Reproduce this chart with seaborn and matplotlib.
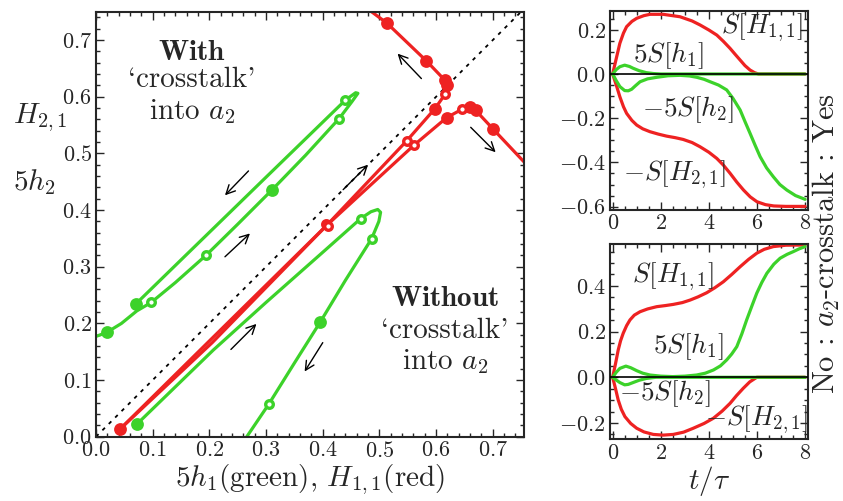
import numpy as np
import matplotlib
matplotlib.use("Agg")
import matplotlib.pyplot as plt
from matplotlib.ticker import MultipleLocator
import seaborn as sns

RED = "#EE2222"
GREEN = "#3CD22A"

# ---- main panel: trajectories (5h1, 5h2) green and (H11, H21) red ----
g_with_x = [-0.02, 0.0, 0.019, 0.045, 0.072, 0.0975, 0.14, 0.194, 0.25, 0.31, 0.37, 0.429, 0.452, 0.462, 0.458, 0.44, 0.30, 0.15, 0.071]
g_with_y = [0.168, 0.177, 0.184, 0.200, 0.222, 0.237, 0.272, 0.320, 0.375, 0.435, 0.497, 0.5615, 0.592, 0.606, 0.607, 0.594, 0.458, 0.312, 0.235]

g_wo_x = [0.072, 0.14, 0.207, 0.30, 0.404, 0.467, 0.485, 0.497, 0.502, 0.499, 0.486, 0.44, 0.396, 0.35, 0.3045, 0.266, 0.255]
g_wo_y = [0.022, 0.088, 0.153, 0.237, 0.329, 0.385, 0.397, 0.401, 0.396, 0.38, 0.349, 0.276, 0.203, 0.13, 0.057, 0.0, -0.02]

r_a_x = [0.043, 0.20, 0.407, 0.548, 0.598, 0.6155, 0.6185, 0.6155, 0.583, 0.513, 0.486, 0.47]
r_a_y = [0.014, 0.169, 0.373, 0.522, 0.579, 0.604, 0.620, 0.629, 0.663, 0.730, 0.75, 0.765]

r_b_x = [0.043, 0.205, 0.407, 0.561, 0.6185, 0.645, 0.6596, 0.6696, 0.7007, 0.755, 0.77]
r_b_y = [0.014, 0.166, 0.373, 0.5145, 0.563, 0.5775, 0.581, 0.576, 0.5427, 0.485, 0.47]

red_full_x = [0.043, 0.598, 0.6185, 0.6155, 0.583, 0.513, 0.6185, 0.6596, 0.6696, 0.7007]
red_full_y = [0.014, 0.579, 0.620, 0.629, 0.663, 0.730, 0.563, 0.581, 0.576, 0.5427]
red_open_x = [0.405, 0.409, 0.548, 0.561, 0.6155, 0.645]
red_open_y = [0.375, 0.372, 0.522, 0.5145, 0.604, 0.5775]
green_full_x = [0.019, 0.071, 0.310, 0.072, 0.396]
green_full_y = [0.184, 0.235, 0.435, 0.022, 0.203]
green_open_x = [0.0975, 0.194, 0.429, 0.44, 0.467, 0.486, 0.3045]
green_open_y = [0.237, 0.320, 0.5615, 0.594, 0.385, 0.349, 0.057]

# ---- right panels: shifts vs t/tau (top: with crosstalk, bottom: without) ----
t_top_H11 = [0, 0.15, 0.3, 0.45, 0.58, 0.8, 1.0, 1.3, 1.55, 2.1, 2.8, 3.3, 3.63, 4.0, 4.33, 4.6, 4.88, 5.1, 5.3, 5.5, 5.71, 5.9, 6.06, 8.0]
top_S_H11 = [0, 0.07, 0.139, 0.185, 0.214, 0.238, 0.252, 0.264, 0.270, 0.270, 0.259, 0.240, 0.222, 0.199, 0.176, 0.148, 0.116, 0.088, 0.063, 0.038, 0.018, 0.006, 0.0, 0.0]
t_top_H21 = [0, 0.15, 0.3, 0.45, 0.58, 0.8, 1.0, 1.25, 1.55, 1.9, 2.24, 2.6, 2.93, 3.3, 3.63, 4.0, 4.33, 4.6, 4.88, 5.16, 5.44, 5.72, 6.0, 6.35, 6.7, 7.2, 8.0]
top_mS_H21 = [0, -0.05, -0.103, -0.148, -0.178, -0.210, -0.231, -0.248, -0.261, -0.272, -0.281, -0.288, -0.296, -0.310, -0.329, -0.354, -0.382, -0.412, -0.449, -0.489, -0.525, -0.556, -0.578, -0.591, -0.597, -0.599, -0.599]
t_top_h1 = [0, 0.15, 0.3, 0.5, 0.7, 0.85, 1.1, 1.4, 1.7, 2.0, 8.0]
top_5S_h1 = [0, 0.02, 0.033, 0.040, 0.034, 0.026, 0.015, 0.006, 0.002, 0.0, 0.0]
t_top_h2 = [0, 0.15, 0.3, 0.5, 0.65, 0.79, 0.95, 1.14, 1.45, 1.83, 2.3, 2.8, 3.2, 3.5, 3.8, 4.05, 4.4, 4.74, 5.0, 5.3, 5.5, 5.71, 5.92, 6.13, 6.4, 6.68, 6.95, 7.24, 7.6, 8.0]
top_m5S_h2 = [0, -0.03, -0.057, -0.075, -0.076, -0.069, -0.053, -0.035, -0.022, -0.015, -0.008, -0.006, -0.009, -0.015, -0.024, -0.035, -0.05, -0.072, -0.11, -0.163, -0.215, -0.268, -0.322, -0.374, -0.425, -0.465, -0.500, -0.525, -0.550, -0.567]

t_bot_H11 = [0, 0.12, 0.23, 0.33, 0.44, 0.58, 0.72, 0.9, 1.14, 1.45, 1.83, 2.2, 2.52, 2.9, 3.22, 3.55, 3.91, 4.25, 4.6, 4.95, 5.3, 5.65, 5.99, 6.3, 6.68, 7.2, 8.0]
bot_S_H11 = [0, 0.06, 0.119, 0.16, 0.193, 0.226, 0.251, 0.272, 0.287, 0.299, 0.309, 0.314, 0.319, 0.327, 0.338, 0.352, 0.370, 0.392, 0.418, 0.450, 0.484, 0.516, 0.543, 0.560, 0.572, 0.578, 0.579]
t_bot_H21 = [0, 0.12, 0.23, 0.36, 0.51, 0.75, 1.0, 1.3, 1.69, 2.1, 2.52, 2.95, 3.35, 3.8, 4.19, 4.55, 4.88, 5.15, 5.43, 5.7, 5.99, 8.0]
bot_mS_H21 = [0, -0.05, -0.099, -0.14, -0.172, -0.202, -0.223, -0.239, -0.250, -0.253, -0.250, -0.240, -0.223, -0.202, -0.179, -0.148, -0.114, -0.08, -0.048, -0.02, 0.0, 0.0]
t_bot_h1 = [0, 0.15, 0.3, 0.55, 0.75, 1.0, 1.25, 1.55, 2.0, 2.5, 3.0, 3.49, 3.85, 4.19, 4.48, 4.74, 4.95, 5.16, 5.37, 5.57, 5.78, 5.99, 6.2, 6.41, 6.7, 6.96, 7.25, 7.51, 7.75, 8.0]
bot_5S_h1 = [0, 0.022, 0.039, 0.049, 0.042, 0.029, 0.018, 0.010, 0.005, 0.003, 0.005, 0.010, 0.018, 0.032, 0.05, 0.076, 0.102, 0.134, 0.19, 0.251, 0.31, 0.368, 0.415, 0.455, 0.495, 0.521, 0.538, 0.550, 0.562, 0.572]
t_bot_h2 = [0, 0.15, 0.3, 0.5, 0.65, 0.85, 1.1, 1.4, 1.8, 8.0]
bot_m5S_h2 = [0, -0.012, -0.023, -0.033, -0.031, -0.023, -0.013, -0.005, 0.0, 0.0]

sns.set_style("ticks")
plt.rcParams["font.family"] = ["cmr10", "DejaVu Serif"]
plt.rcParams["mathtext.fontset"] = "cm"
plt.rcParams["axes.formatter.use_mathtext"] = True
plt.rcParams["axes.unicode_minus"] = True

fig = plt.figure(figsize=(8.43, 5.01), dpi=100)
ax = fig.add_axes([96 / 843, (501 - 436.7) / 501, 428 / 843, 425 / 501])
ax_t = fig.add_axes([610 / 843, (501 - 209.5) / 501, 198 / 843, 198.5 / 501])
ax_b = fig.add_axes([610 / 843, (501 - 439) / 501, 198 / 843, 195.5 / 501])

LW = 2.3
# main panel
ax.plot([0, 0.75], [0, 0.75], color="k", lw=1.3, ls=(0, (2, 3)), zorder=1)
sns.lineplot(x=g_with_x, y=g_with_y, sort=False, estimator=None, color=GREEN, lw=LW, ax=ax)
sns.lineplot(x=g_wo_x, y=g_wo_y, sort=False, estimator=None, color=GREEN, lw=LW, ax=ax)
sns.lineplot(x=r_a_x, y=r_a_y, sort=False, estimator=None, color=RED, lw=LW, ax=ax)
sns.lineplot(x=r_b_x, y=r_b_y, sort=False, estimator=None, color=RED, lw=LW, ax=ax)
sns.scatterplot(x=red_full_x, y=red_full_y, color=RED, s=85, linewidth=0, ax=ax, zorder=4)
sns.scatterplot(x=green_full_x, y=green_full_y, color=GREEN, s=85, linewidth=0, ax=ax, zorder=4)
sns.scatterplot(x=red_open_x, y=red_open_y, color="white", edgecolor=RED, s=30, linewidth=2.4, ax=ax, zorder=4)
sns.scatterplot(x=green_open_x, y=green_open_y, color="white", edgecolor=GREEN, s=30, linewidth=2.4, ax=ax, zorder=4)

arrows = [((0.574, 0.632), (0.532, 0.676)), ((0.661, 0.546), (0.705, 0.502)),
          ((0.436, 0.436), (0.480, 0.480)), ((0.269, 0.469), (0.2275, 0.426)),
          ((0.2275, 0.3175), (0.2716, 0.3587)), ((0.238, 0.154), (0.283, 0.199)),
          ((0.40, 0.166), (0.368, 0.115))]
for (x0, y0), (x1, y1) in arrows:
    ax.annotate("", xy=(x1, y1), xytext=(x0, y0),
                arrowprops=dict(arrowstyle="->", color="k", lw=1.0, mutation_scale=16, shrinkA=0, shrinkB=0))

fs = 21
ax.text(0.169, 0.677, r"$\mathbf{With}$", ha="center", va="center", fontsize=fs)
ax.text(0.169, 0.629, "`crosstalk'", ha="center", va="center", fontsize=fs)
ax.text(0.169, 0.573, r"into $a_2$", ha="center", va="center", fontsize=fs)
ax.text(0.6155, 0.244, r"$\mathbf{Without}$", ha="center", va="center", fontsize=fs)
ax.text(0.6155, 0.187, "`crosstalk'", ha="center", va="center", fontsize=fs)
ax.text(0.6155, 0.132, r"into $a_2$", ha="center", va="center", fontsize=fs)

ax.set_xlim(0, 0.755)
ax.set_ylim(0, 0.75)
ax.xaxis.set_major_locator(MultipleLocator(0.1))
ax.yaxis.set_major_locator(MultipleLocator(0.1))
ax.xaxis.set_minor_locator(MultipleLocator(0.02))
ax.yaxis.set_minor_locator(MultipleLocator(0.02))
ax.set_xlabel(r"$5h_1$(green), $H_{1,1}$(red)", fontsize=fs, labelpad=1)
fig.text(13 / 843, 1 - 118 / 501, r"$H_{2,1}$", ha="left", va="center", fontsize=fs)
fig.text(13 / 843, 1 - 182 / 501, r"$5h_2$", ha="left", va="center", fontsize=fs)

# right panels
sns.lineplot(x=t_top_H11, y=top_S_H11, color=RED, lw=LW, ax=ax_t)
sns.lineplot(x=t_top_H21, y=top_mS_H21, color=RED, lw=LW, ax=ax_t)
sns.lineplot(x=t_top_h1, y=top_5S_h1, color=GREEN, lw=LW, ax=ax_t)
sns.lineplot(x=t_top_h2, y=top_m5S_h2, color=GREEN, lw=LW, ax=ax_t)
ax_t.axhline(0, color="k", lw=1.2, zorder=5)
ax_t.set_xlim(-0.11, 8.12)
ax_t.set_ylim(-0.613, 0.285)
ax_t.yaxis.set_major_locator(MultipleLocator(0.2))
ax_t.yaxis.set_minor_locator(MultipleLocator(0.05))
fs2 = 19.5
ax_t.text(6.2, 0.207, r"$S[H_{1,1}]$", ha="center", va="center", fontsize=fs2)
ax_t.text(2.31, 0.081, r"$5S[h_1]$", ha="center", va="center", fontsize=fs2)
ax_t.text(3.15, -0.163, r"$-5S[h_2]$", ha="center", va="center", fontsize=fs2)
ax_t.text(2.59, -0.457, r"$-S[H_{2,1}]$", ha="center", va="center", fontsize=fs2)

sns.lineplot(x=t_bot_H11, y=bot_S_H11, color=RED, lw=LW, ax=ax_b)
sns.lineplot(x=t_bot_H21, y=bot_mS_H21, color=RED, lw=LW, ax=ax_b)
sns.lineplot(x=t_bot_h1, y=bot_5S_h1, color=GREEN, lw=LW, ax=ax_b)
sns.lineplot(x=t_bot_h2, y=bot_m5S_h2, color=GREEN, lw=LW, ax=ax_b)
ax_b.axhline(0, color="k", lw=1.2, zorder=5)
ax_b.set_xlim(-0.11, 8.12)
ax_b.set_ylim(-0.27, 0.5855)
ax_b.yaxis.set_major_locator(MultipleLocator(0.2))
ax_b.yaxis.set_minor_locator(MultipleLocator(0.05))
ax_b.text(2.52, 0.44, r"$S[H_{1,1}]$", ha="center", va="center", fontsize=fs2)
ax_b.text(3.15, 0.134, r"$5S[h_1]$", ha="center", va="center", fontsize=fs2)
ax_b.text(2.18, -0.073, r"$-5S[h_2]$", ha="center", va="center", fontsize=fs2)
ax_b.text(5.99, -0.187, r"$-S[H_{2,1}]$", ha="center", va="center", fontsize=fs2)
ax_b.set_xlabel(r"$t/\tau$", fontsize=fs, labelpad=1)

for a in (ax_t, ax_b):
    a.xaxis.set_major_locator(MultipleLocator(2))
    a.xaxis.set_minor_locator(MultipleLocator(0.5))

for a in (ax, ax_t, ax_b):
    a.tick_params(which="both", direction="in", top=True, right=True, width=1.0, labelsize=16, pad=3)
    a.tick_params(which="major", length=6)
    a.tick_params(which="minor", length=3)
    for sp in a.spines.values():
        sp.set_linewidth(1.5)
    a.set_ylabel("")

fig.text(0.999, 1 - 244 / 501, r"No : $a_2$-crosstalk : Yes", rotation=90, ha="right", va="center", fontsize=22)

fig.savefig("out.png", dpi=100)
